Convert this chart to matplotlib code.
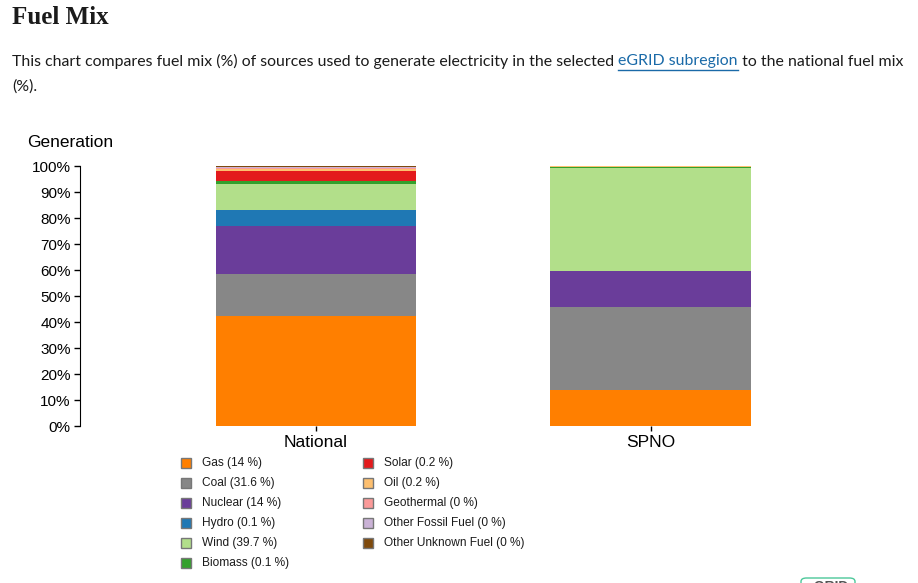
import matplotlib
matplotlib.use("Agg")
import matplotlib.pyplot as plt
from matplotlib.patches import Rectangle, FancyBboxPatch
from matplotlib.lines import Line2D

# ---------------- data ----------------
categories = ["National", "SPNO"]
fuels = ["Gas", "Coal", "Nuclear", "Hydro", "Wind", "Biomass",
         "Solar", "Oil", "Geothermal", "Other Fossil Fuel", "Other Unknown Fuel"]
national = [42.3, 16.2, 18.5, 6.1, 10.0, 1.1, 3.9, 0.9, 0.4, 0.3, 0.3]
spno = [14, 31.6, 14, 0.1, 39.7, 0.1, 0.2, 0.2, 0, 0, 0]
colors = ["#ff7f00", "#878787", "#6a3d9a", "#1f78b4", "#b2df8a", "#33a02c",
          "#e31a1c", "#fdbf6f", "#fb9a99", "#cab2d6", "#7f4a0c"]
yticks = [0, 10, 20, 30, 40, 50, 60, 70, 80, 90, 100]

W, H = 918, 583
fig = plt.figure(figsize=(W / 100, H / 100), dpi=100)


def fx(x):
    return x / W


def fy(y):
    return 1 - y / H


# ---------------- header ----------------
fig.text(fx(12), fy(18), "Fuel Mix", family="Liberation Serif", fontweight="bold",
         fontsize=18, va="center", ha="left", color="#1b1b1b")

para_font = dict(family="Lato", fontsize=11.48, va="center", ha="left", color="#1b1b1b")
renderer = fig.canvas.get_renderer()
t1 = fig.text(fx(12), fy(61.5), "This chart compares fuel mix (%) of sources used to generate electricity in the selected ",
              **para_font)
bb = t1.get_window_extent(renderer)
x_link = bb.x1
link_font = dict(para_font)
link_font["color"] = "#1a6aa8"
t2 = fig.text(x_link / W, fy(61.5), "eGRID subregion", **link_font)
bb2 = t2.get_window_extent(renderer)
fig.add_artist(Line2D([bb2.x0 / W, bb2.x1 / W], [fy(69.5), fy(69.5)], color="#1a6aa8", lw=1,
                      transform=fig.transFigure))
fig.text(bb2.x1 / W, fy(61.5), " to the national fuel mix", **para_font)
fig.text(fx(12), fy(86.5), "(%).", **para_font)

# ---------------- chart ----------------
ax_left, ax_right, ax_top, ax_bottom = 80, 888, 166, 426
ax = fig.add_axes([fx(ax_left), fy(ax_bottom), (ax_right - ax_left) / W, (ax_bottom - ax_top) / H])

xpos = list(range(len(categories)))
series = [national, spno]
for fi, fuel in enumerate(fuels):
    vals = [s[fi] for s in series]
    bottoms = [sum(s[:fi]) for s in series]
    ax.bar(xpos, vals, bottom=bottoms, width=0.6, color=colors[fi], linewidth=0)

ax.set_ylim(0, 100)
ax.set_xlim(-0.7045, 1.7075)
ax.set_yticks(yticks)
ax.set_yticklabels([f"{t}%" for t in yticks], family="Liberation Sans", fontsize=11)
ax.set_xticks(xpos)
ax.set_xticklabels(categories, family="Liberation Sans", fontsize=12.5)
for s in ["top", "right", "bottom"]:
    ax.spines[s].set_visible(False)
ax.spines["left"].set_color("black")
ax.tick_params(axis="y", length=4.5, width=1, pad=2.2, colors="black")
ax.tick_params(axis="x", length=3.6, width=1, pad=2.8, colors="black")

fig.text(fx(27), fy(143), "Generation", family="Liberation Sans", fontsize=12.5,
         va="center", ha="left", color="black")

# ---------------- legend ----------------
for i, fuel in enumerate(fuels):
    col = 0 if i < 6 else 1
    row = i if i < 6 else i - 6
    sx = 181 if col == 0 else 363
    sy = 458 + row * 20
    fig.add_artist(Rectangle((fx(sx), fy(sy + 10)), 10 / W, 10 / H, transform=fig.transFigure,
                             facecolor=colors[i], edgecolor="#777777", linewidth=1))
    fig.text(fx(sx + 21), fy(sy + 5), f"{fuel} ({spno[i]:g} %)", family="Liberation Sans",
             fontsize=8.6, va="center", ha="left", color="#1b1b1b")

# ---------------- partial badge at bottom right ----------------
fig.add_artist(FancyBboxPatch((fx(801), fy(600)), 54 / W, 22 / H, transform=fig.transFigure,
                              boxstyle="round,pad=0,rounding_size=0.006", facecolor="white",
                              edgecolor="#4cc89a", linewidth=1, clip_on=False))
fig.text(fx(828), fy(580), "eGRID", family="Liberation Sans", fontweight="bold", fontsize=10,
         va="top", ha="center", color="#555555")

fig.savefig("out.png", dpi=100)
